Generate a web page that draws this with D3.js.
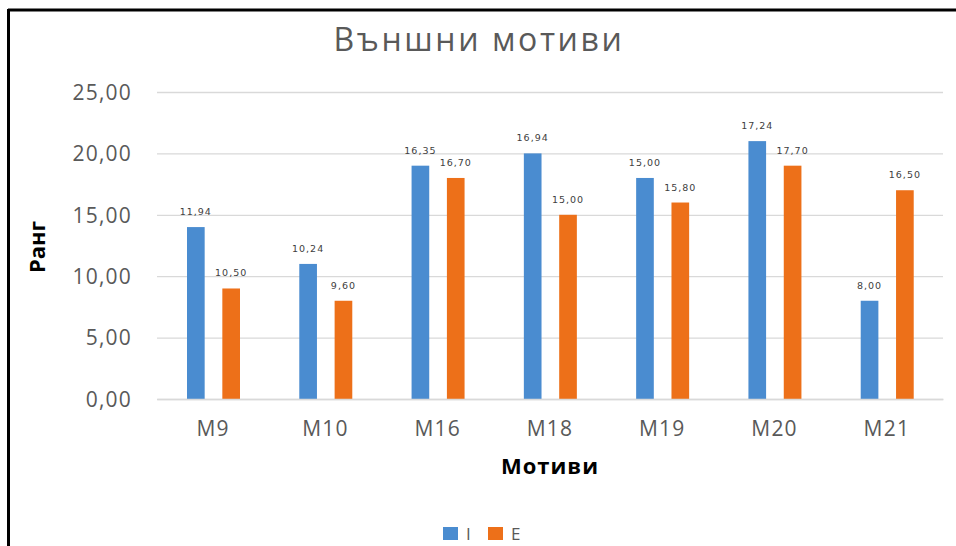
<!DOCTYPE html>
<html>
<head>
<meta charset="utf-8">
<script src="https://cdn.jsdelivr.net/npm/d3@7"></script>
<style>
  body { margin: 0; background: #fff; }
</style>
</head>
<body>
<svg id="chart"></svg>
<script>
var categories = ["M9", "M10", "M16", "M18", "M19", "M20", "M21"]
var seriesNames = ["I", "E"]
// bar heights as drawn in the picture
var valuesI = [14, 11, 19, 20, 18, 21, 8]
var valuesE = [9, 8, 18, 15, 16, 19, 17]
// data labels as printed above the bars
var labelsI = ["11,94", "10,24", "16,35", "16,94", "15,00", "17,24", "8,00"]
var labelsE = ["10,50", "9,60", "16,70", "15,00", "15,80", "17,70", "16,50"]
var yTicks = [0, 5, 10, 15, 20, 25]

var colors = { I: "#4a8cd0", E: "#ed7019" }

var dimensions = ({
    width: 956,
    height: 546,
    margin: { top: 92, right: 13, bottom: 147, left: 157 }
})
dimensions.boundedWidth = dimensions.width - dimensions.margin.left - dimensions.margin.right
dimensions.boundedHeight = dimensions.height - dimensions.margin.top - dimensions.margin.bottom

var svg = d3.select("#chart")
    .attr("width", dimensions.width)
    .attr("height", dimensions.height)

// frame lines (top and left)
svg.append("line").attr("x1", 8).attr("x2", 956).attr("y1", 10).attr("y2", 10)
    .attr("stroke", "#000").attr("stroke-width", 3)
svg.append("line").attr("x1", 8.5).attr("x2", 8.5).attr("y1", 9).attr("y2", 546)
    .attr("stroke", "#000").attr("stroke-width", 3)

var data = categories.map(function (c, i) {
    return { cat: c, I: valuesI[i], E: valuesE[i], labI: labelsI[i], labE: labelsE[i] }
})

var xScale = d3.scaleBand()
    .domain(categories)
    .range([0, dimensions.boundedWidth])

var xInner = d3.scaleBand()
    .domain(seriesNames)
    .range([30, 83])
    .paddingInner(0.5)

var yScale = d3.scaleLinear()
    .domain([0, 25])
    .range([dimensions.boundedHeight, 0])

var bounds = svg.append("g")
    .attr("transform", "translate(" + dimensions.margin.left + "," + dimensions.margin.top + ")")

// gridlines
var yAxis = d3.axisLeft(yScale)
    .tickValues(yTicks)
    .tickSize(-dimensions.boundedWidth)
    .tickFormat(function (d) { return d3.format(".2f")(d).replace(".", ",") })

var yAxisG = bounds.append("g").call(yAxis)
yAxisG.select(".domain").remove()
yAxisG.selectAll("line").attr("stroke", "#d9d9d9").attr("stroke-width", 1.3)
yAxisG.selectAll("text")
    .attr("x", -25)
    .attr("dy", "0.35em")
    .attr("fill", "#595959")
    .style("font-family", "'Open Sans', sans-serif")
    .style("font-size", "21px")
    .style("letter-spacing", "1.2px")

var groups = bounds.selectAll(".grp")
    .data(data)
    .enter()
    .append("g")
    .attr("transform", function (d) { return "translate(" + xScale(d.cat) + ",0)" })

seriesNames.forEach(function (s) {
    groups.append("rect")
        .attr("x", xInner(s))
        .attr("width", xInner.bandwidth())
        .attr("y", function (d) { return yScale(d[s]) })
        .attr("height", function (d) { return dimensions.boundedHeight - yScale(d[s]) })
        .attr("fill", colors[s])

    groups.append("text")
        .attr("x", xInner(s) + xInner.bandwidth() / 2)
        .attr("y", function (d) { return yScale(d[s]) - 12 })
        .attr("text-anchor", "middle")
        .attr("fill", "#404040")
        .style("font-family", "'DejaVu Sans', sans-serif")
        .style("font-size", "9.5px")
        .style("letter-spacing", "1px")
        .text(function (d) { return d["lab" + s] })
})

// x axis
var xAxis = d3.axisBottom(xScale).tickSize(0).tickPadding(22)
var xAxisG = bounds.append("g")
    .attr("transform", "translate(0," + dimensions.boundedHeight + ")")
    .call(xAxis)
xAxisG.select(".domain").attr("stroke", "#d9d9d9").attr("stroke-width", 1.3)
xAxisG.selectAll("text")
    .attr("fill", "#595959")
    .style("font-family", "'Open Sans', sans-serif")
    .style("font-size", "21px")
    .style("letter-spacing", "1.2px")

// title
svg.append("text")
    .attr("x", 479)
    .attr("y", 51)
    .attr("text-anchor", "middle")
    .attr("fill", "#595959")
    .style("font-family", "'Open Sans', sans-serif")
    .style("font-size", "32px")
    .style("letter-spacing", "2.6px")
    .text("Външни мотиви")

// axis titles
svg.append("text")
    .attr("x", dimensions.margin.left + dimensions.boundedWidth / 2)
    .attr("y", 474)
    .attr("text-anchor", "middle")
    .attr("fill", "#000")
    .style("font-family", "'Open Sans', sans-serif")
    .style("font-weight", "bold")
    .style("font-size", "22px")
    .style("letter-spacing", "1px")
    .text("Мотиви")

svg.append("text")
    .attr("transform", "translate(45,247) rotate(-90)")
    .attr("text-anchor", "middle")
    .attr("fill", "#000")
    .style("font-family", "'Open Sans', sans-serif")
    .style("font-weight", "bold")
    .style("font-size", "22px")
    .text("Ранг")

// legend
var legend = svg.append("g").attr("transform", "translate(443,527)")
var legendX = { I: 0, E: 45 }
seriesNames.forEach(function (s) {
    legend.append("rect")
        .attr("x", legendX[s])
        .attr("y", 0)
        .attr("width", 15)
        .attr("height", 13)
        .attr("fill", colors[s])
    legend.append("text")
        .attr("x", legendX[s] + 23)
        .attr("y", 13)
        .attr("fill", "#595959")
        .style("font-family", "'Open Sans', sans-serif")
        .style("font-size", "17px")
        .text(s)
})
</script>
</body>
</html>
